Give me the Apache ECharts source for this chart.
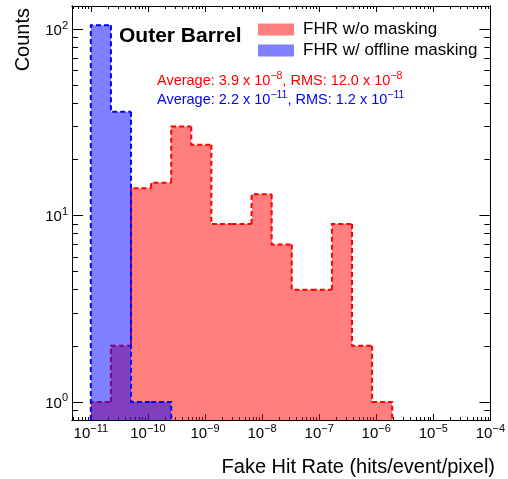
<!DOCTYPE html>
<html>
<head>
<meta charset="utf-8">
<script src="https://cdn.jsdelivr.net/npm/echarts@6/dist/echarts.min.js"></script>
<style>
html, body { margin: 0; padding: 0; background: #fff; }
#main { width: 508px; height: 479px; }
</style>
</head>
<body>
<div id="main"></div>
<script>
// histogram bin edges (powers of ten)
var binEdges = [-11, -10.648, -10.296, -9.944, -9.592, -9.24, -8.888, -8.536, -8.184, -7.832, -7.48,
                -7.128, -6.776, -6.424, -6.072, -5.72, -5.368, -5.016, -4.664, -4.312, -3.96];
var countsNoMask = [1, 2, 14, 15, 30, 24, 9, 9, 13, 7, 4, 4, 9, 2, 1, 0, 0, 0, 0, 0];
var countsMasked = [105, 36, 1, 1, 0, 0, 0, 0, 0, 0, 0, 0, 0, 0, 0, 0, 0, 0, 0, 0];
var seriesNames = ['FHR w/o masking', 'FHR w/ offline masking'];
var xTickExp = [-11, -10, -9, -8, -7, -6, -5, -4];
var yTickExp = [0, 1, 2];
var xRange = [-11.33, -4];       // log10 of the x range
var yRange = [0.8, 133];         // counts range
var statsNoMask = ['3.9', '12.0', '8'];
var statsMasked = ['2.2', '1.2', '11'];

var FONT = '"Liberation Sans", Arial, Helvetica, sans-serif';
var MINUS = '\u2212';
var yLogMin = Math.log10(yRange[0]), yLogMax = Math.log10(yRange[1]);

function minorTicks(lo, hi) {
    var out = [];
    for (var n = Math.floor(lo) - 1; n <= Math.ceil(hi); n++) {
        for (var k = 2; k <= 9; k++) {
            var v = n + Math.log10(k);
            if (v > lo + 1e-6 && v < hi - 1e-6) out.push(v);
        }
    }
    return out;
}
var xMinor = minorTicks(xRange[0], xRange[1]);
var yMinor = minorTicks(yLogMin, yLogMax);

function binData(counts) {
    var d = [];
    for (var i = 0; i < counts.length; i++) {
        if (counts[i] <= 0) continue;
        d.push([binEdges[i], binEdges[i + 1], counts[i],
                i > 0 ? counts[i - 1] : 0,
                (i + 1 < counts.length && counts[i + 1] > 0) ? 0 : 1]);
    }
    return d;
}

function histRender(stroke, fill) {
    return function (params, api) {
        var lo = api.value(0), hi = api.value(1);
        var c = Math.log10(api.value(2));
        var prev = api.value(3) > 0 ? Math.log10(api.value(3)) : yLogMin;
        var a = api.coord([lo, yLogMin]);
        var b = api.coord([hi, c]);
        var x0 = Math.round(a[0]), x1 = Math.round(b[0]);
        var pts = [api.coord([lo, prev]), api.coord([lo, c]), b];
        if (api.value(4)) pts.push(api.coord([hi, yLogMin]));
        return {
            type: 'group',
            children: [
                { type: 'rect', z2: 1,
                  shape: { x: x0, y: b[1], width: x1 - x0, height: a[1] - b[1] },
                  style: { fill: fill } },
                { type: 'polyline', z2: 2,
                  shape: { points: pts },
                  style: { stroke: stroke, lineWidth: 2, lineDash: [5, 3], fill: null } }
            ]
        };
    };
}

var labelRich = {
    b: { fontSize: 15, fontFamily: FONT, color: '#000', verticalAlign: 'bottom', lineHeight: 18 },
    s: { fontSize: 11, fontFamily: FONT, color: '#000', verticalAlign: 'top', lineHeight: 11 }
};

function axisBase(dim, pos, ticks, len, withLabels) {
    var ax = {
        type: 'value',
        position: pos,
        min: dim === 'x' ? xRange[0] : yLogMin,
        max: dim === 'x' ? xRange[1] : yLogMax,
        axisLine: { show: true, onZero: false, lineStyle: { color: '#000', width: 1 } },
        axisTick: { show: true, inside: true, length: len, customValues: ticks,
                    lineStyle: { color: '#000', width: 1 } },
        splitLine: { show: false },
        axisLabel: { show: false }
    };
    if (withLabels) {
        ax.axisLabel = {
            show: true,
            customValues: ticks,
            margin: dim === 'x' ? 3 : 4,
            rich: labelRich,
            formatter: function (v) {
                var e = Math.round(v);
                return '{b|10}{s|' + (e < 0 ? MINUS + (-e) : e) + '}';
            }
        };
    }
    return ax;
}

function statText(stats, color) {
    return {
        text: '{n|Average: ' + stats[0] + ' x 10}{s|' + MINUS + stats[2] + '}{n|, RMS: ' +
              stats[1] + ' x 10}{s|' + MINUS + stats[2] + '}',
        rich: {
            n: { fontSize: 14.5, fontFamily: FONT, fill: color, verticalAlign: 'bottom', lineHeight: 17 },
            s: { fontSize: 10.5, fontFamily: FONT, fill: color, verticalAlign: 'top', lineHeight: 10 }
        }
    };
}

var chart = echarts.init(document.getElementById('main'));
chart.setOption({
    animation: false,
    grid: { left: 72, right: 12, top: 6, bottom: 59 },
    xAxis: [
        axisBase('x', 'bottom', xTickExp, 6, true),
        axisBase('x', 'bottom', xMinor, 3, false),
        axisBase('x', 'top', xTickExp, 6, false),
        axisBase('x', 'top', xMinor, 3, false)
    ],
    yAxis: [
        axisBase('y', 'left', yTickExp, 11, true),
        axisBase('y', 'left', yMinor, 6, false),
        axisBase('y', 'right', yTickExp, 11, false),
        axisBase('y', 'right', yMinor, 6, false)
    ],
    legend: {
        orient: 'vertical',
        left: 253,
        top: 16,
        itemWidth: 36,
        itemHeight: 12,
        itemGap: 4,
        icon: 'rect',
        selectedMode: false,
        textStyle: { fontSize: 17, fontFamily: FONT, color: '#000', lineHeight: 17, padding: [0, 0, 0, 4] },
        data: seriesNames
    },
    series: [
        {
            name: seriesNames[0],
            type: 'custom',
            xAxisIndex: 0, yAxisIndex: 0,
            z: 2,
            itemStyle: { color: 'rgba(255,0,0,0.5)' },
            renderItem: histRender('#ff0000', 'rgba(255,0,0,0.5)'),
            encode: { x: [0, 1], y: 2 },
            data: binData(countsNoMask)
        },
        {
            name: seriesNames[1],
            type: 'custom',
            xAxisIndex: 0, yAxisIndex: 0,
            z: 3,
            itemStyle: { color: 'rgba(0,0,255,0.5)' },
            renderItem: histRender('#0000ff', 'rgba(0,0,255,0.5)'),
            encode: { x: [0, 1], y: 2 },
            data: binData(countsMasked)
        }
    ],
    graphic: [
        { type: 'text', left: 119, top: 26,
          style: { text: 'Outer Barrel', font: 'bold 21px ' + FONT, fill: '#000' } },
        { type: 'text', left: 157, top: 71, style: statText(statsNoMask, '#ff0000') },
        { type: 'text', left: 157, top: 90, style: statText(statsMasked, '#0000ff') },
        { type: 'text', x: 33, y: 8, rotation: Math.PI / 2,
          style: { text: 'Counts', font: '20px ' + FONT, fill: '#000', align: 'right', verticalAlign: 'bottom' } },
        { type: 'text', x: 495, y: 477,
          style: { text: 'Fake Hit Rate (hits/event/pixel)', font: '20px ' + FONT, fill: '#000',
                   align: 'right', verticalAlign: 'bottom' } }
    ]
});
</script>
</body>
</html>
